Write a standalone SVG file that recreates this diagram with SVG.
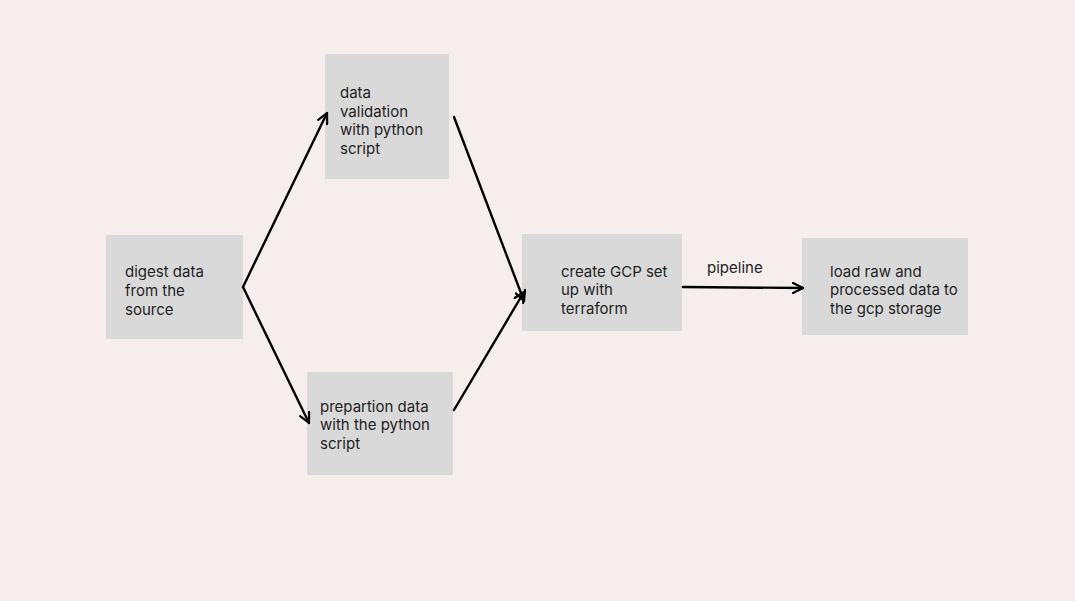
<svg xmlns="http://www.w3.org/2000/svg" width="1075" height="601" viewBox="0 0 1075 601">
<defs>
<marker id="arr" viewBox="0 0 12 12" refX="11" refY="6" markerWidth="12" markerHeight="12" markerUnits="userSpaceOnUse" orient="auto">
<path d="M1,1 L11,6 L1,11" fill="none" stroke="#000" stroke-width="2.2" stroke-linecap="round" stroke-linejoin="round"/>
</marker>
</defs>
<style>
.box{fill:#d9d9d9;}
.t{font-family:Inter,"Noto Sans","Liberation Sans",sans-serif;font-size:15px;fill:#1e1e1e;}
.c{fill:none;stroke:#000;stroke-width:2.4;stroke-linecap:round;}
</style>
<rect width="1075" height="601" fill="#f5eeed"/>
<g id="n-digest">
<rect class="box" x="106" y="235" width="137" height="104"/>
<text class="t" x="125" y="277">digest data</text>
<text class="t" x="125" y="296">from the</text>
<text class="t" x="125" y="314.5">source</text>
</g>
<g id="n-validation">
<rect class="box" x="325" y="54" width="124" height="125"/>
<text class="t" x="340" y="98">data</text>
<text class="t" x="340" y="116.5">validation</text>
<text class="t" x="340" y="135">with python</text>
<text class="t" x="340" y="154">script</text>
</g>
<g id="n-preparation">
<rect class="box" x="307" y="372" width="146" height="103"/>
<text class="t" x="320" y="411.5">prepartion data</text>
<text class="t" x="320" y="430">with the python</text>
<text class="t" x="320" y="449">script</text>
</g>
<g id="n-gcp">
<rect class="box" x="522" y="234" width="160" height="97"/>
<text class="t" x="561" y="276.5">create GCP set</text>
<text class="t" x="561" y="295">up with</text>
<text class="t" x="561" y="313.5">terraform</text>
</g>
<g id="n-load">
<rect class="box" x="802" y="238" width="166" height="97"/>
<text class="t" x="830" y="276.5">load raw and</text>
<text class="t" x="830" y="295">processed data to</text>
<text class="t" x="830" y="313.5">the gcp storage</text>
</g>
<g id="connectors">
<line class="c" x1="243" y1="287" x2="327" y2="113" marker-end="url(#arr)"/>
<line class="c" x1="243" y1="287" x2="309" y2="423" marker-end="url(#arr)"/>
<line class="c" x1="454" y1="117" x2="524" y2="301" marker-end="url(#arr)"/>
<line class="c" x1="454" y1="410" x2="524" y2="292" marker-end="url(#arr)"/>
<line class="c" x1="683" y1="287" x2="803" y2="288" marker-end="url(#arr)"/>
<text class="t" x="707" y="273">pipeline</text>
</g>
</svg>
